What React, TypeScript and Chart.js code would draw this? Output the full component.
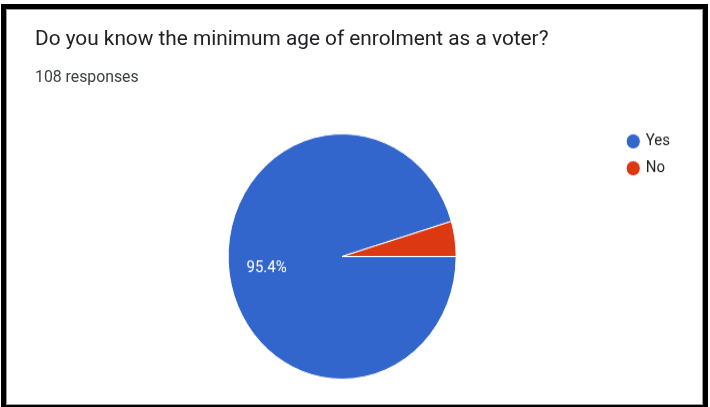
import React, { useEffect, useRef } from "react";
import { Chart, registerables } from "chart.js";

Chart.register(...registerables);

const titleText = "Do you know the minimum age of enrolment as a voter?";
const subtitleText = "108 responses";
const categories = ["Yes", "No"];
const responseCounts = [103, 5];
const sliceColors = ["#3366cc", "#dc3912"];

const pctLabelPlugin = {
  id: "pctLabels",
  afterDatasetsDraw(chart: any) {
    const ctx = chart.ctx;
    const meta = chart.getDatasetMeta(0);
    const data = chart.data.datasets[0].data as number[];
    const total = data.reduce((a: number, b: number) => a + b, 0);
    ctx.save();
    ctx.fillStyle = "#ffffff";
    ctx.font = "15px Roboto";
    ctx.textAlign = "center";
    ctx.textBaseline = "middle";
    meta.data.forEach((arc: any, i: number) => {
      const pct = (data[i] / total) * 100;
      if (pct < 5) return;
      const mid = (arc.startAngle + arc.endAngle) / 2;
      const r = arc.outerRadius * 0.67;
      ctx.fillText(pct.toFixed(1) + "%", arc.x + Math.cos(mid) * r, arc.y + Math.sin(mid) * r);
    });
    ctx.restore();
  },
};

export default function App() {
  const canvasRef = useRef<HTMLCanvasElement | null>(null);

  useEffect(() => {
    if (!canvasRef.current) return;
    const chart = new Chart(canvasRef.current, {
      type: "pie",
      data: {
        labels: categories,
        datasets: [
          {
            data: responseCounts,
            backgroundColor: sliceColors,
            borderColor: "#ffffff",
            borderWidth: 1,
            hoverOffset: 0,
            radius: 114,
          } as any,
        ],
      },
      options: {
        animation: false,
        responsive: false,
        rotation: 90,
        layout: { padding: { left: 66, right: 30, top: 132, bottom: 26 } },
        plugins: {
          tooltip: { enabled: false },
          legend: {
            position: "right",
            align: "start",
            labels: {
              usePointStyle: true,
              pointStyle: "circle",
              boxWidth: 10,
              boxHeight: 10,
              padding: 10,
              color: "#222222",
              font: { family: "Roboto", size: 15 },
            },
          },
        },
      },
      plugins: [pctLabelPlugin],
    });
    return () => chart.destroy();
  }, []);

  return (
    <div style={{ position: "fixed", left: 0, top: 0, width: 710, height: 407, background: "#fff", overflow: "hidden" }}>
      <canvas
        ref={canvasRef}
        width={710}
        height={407}
        style={{
          position: "absolute",
          left: 0,
          top: 0,
          width: 710,
          height: 407,
          transform: "scaleY(1.076)",
          transformOrigin: "341px 256.5px",
        }}
      />
      <div
        style={{
          position: "absolute",
          left: 35,
          top: 28,
          fontFamily: "Roboto",
          fontSize: 20.8,
          lineHeight: "20px",
          color: "#202124",
          whiteSpace: "nowrap",
        }}
      >
        {titleText}
      </div>
      <div
        style={{
          position: "absolute",
          left: 35,
          top: 69,
          fontFamily: "Roboto",
          fontSize: 15.8,
          lineHeight: "15px",
          color: "#3c4043",
          whiteSpace: "nowrap",
        }}
      >
        {subtitleText}
      </div>
      <div
        style={{
          position: "absolute",
          left: 1,
          top: 4,
          width: 707,
          height: 406,
          boxSizing: "border-box",
          border: "5px solid #000",
          pointerEvents: "none",
        }}
      >
        <div style={{ position: "absolute", inset: 0, border: "1px solid #9a9a9a" }} />
      </div>
    </div>
  );
}
